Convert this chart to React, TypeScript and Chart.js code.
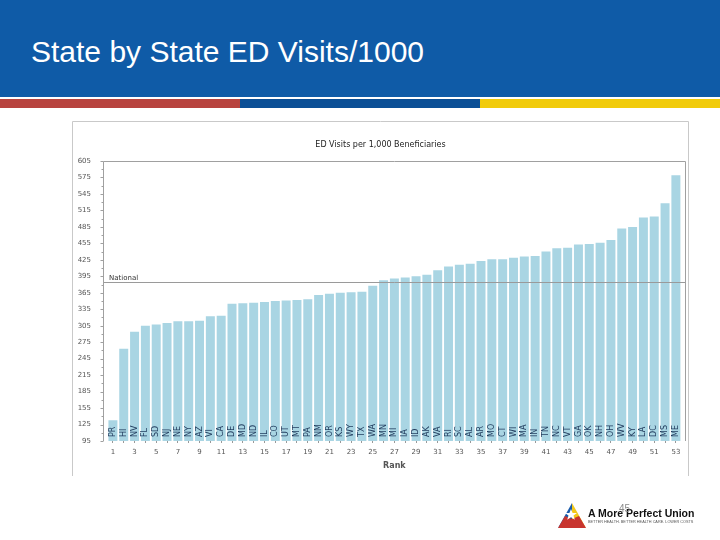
import React, { useEffect, useRef } from "react";
import { Chart, registerables } from "chart.js";

Chart.register(...registerables);

const slideTitle = "State by State ED Visits/1000";
const chartTitle = "ED Visits per 1,000 Beneficiaries";
const axisTitle = "Rank";
const nationalLabel = "National";
const nationalValue = 385;

const states = [
  "PR", "HI", "NV", "FL", "SD", "NJ", "NE", "NY", "AZ", "VI",
  "CA", "DE", "MD", "ND", "IL", "CO", "UT", "MT", "PA", "NM",
  "OR", "KS", "WY", "TX", "WA", "MN", "MI", "IA", "ID", "AK",
  "VA", "RI", "SC", "AL", "AR", "MO", "CT", "WI", "MA", "IN",
  "TN", "NC", "VT", "GA", "OK", "NH", "OH", "WV", "KY", "LA",
  "DC", "MS", "ME",
];

const visits = [
  133, 263, 294, 305, 307, 310, 313, 313, 314, 322,
  323, 345, 346, 347, 348, 350, 351, 352, 353, 361,
  363, 365, 366, 367, 378, 388, 391, 393, 395, 398,
  406, 413, 416, 418, 423, 426, 426, 429, 431, 432,
  440, 446, 447, 453, 454, 456, 461, 482, 485, 502,
  504, 528, 579,
];

const rankTicks = [
  "1", "3", "5", "7", "9", "11", "13", "15", "17", "19", "21", "23", "25", "27",
  "29", "31", "33", "35", "37", "39", "41", "43", "45", "47", "49", "51", "53",
];

const yMin = 95;
const yMax = 605;
const yStep = 30;

export default function App() {
  const ref = useRef<HTMLCanvasElement>(null);

  useEffect(() => {
    const canvas = ref.current;
    if (!canvas) return;
    const W = 617;
    const H = 355;
    const frameLeft = 31.5;
    const frameRight = 613.5;

    const deco = {
      id: "deco",
      beforeDraw(chart: any) {
        const c = chart.ctx;
        c.save();
        c.strokeStyle = "#c9c9c9";
        c.lineWidth = 1;
        c.beginPath();
        c.moveTo(0.5, H);
        c.lineTo(0.5, 0.5);
        c.lineTo(W - 0.5, 0.5);
        c.lineTo(W - 0.5, H);
        c.stroke();
        c.restore();
      },
      afterDatasetsDraw(chart: any) {
        const c = chart.ctx;
        const area = chart.chartArea;
        const meta = chart.getDatasetMeta(0);
        c.save();
        c.fillStyle = "#1f3a5c";
        c.font = "8px 'DejaVu Sans'";
        c.textAlign = "left";
        c.textBaseline = "middle";
        meta.data.forEach((bar: any, i: number) => {
          c.save();
          c.translate(bar.x, area.bottom - 4);
          c.rotate(-Math.PI / 2);
          c.fillText(states[i], 0, 0);
          c.restore();
        });
        const ny = Math.round(chart.scales.y.getPixelForValue(nationalValue)) + 0.5;
        c.strokeStyle = "#9a9a9a";
        c.lineWidth = 1;
        c.beginPath();
        c.moveTo(frameLeft, ny);
        c.lineTo(frameRight, ny);
        c.stroke();
        c.fillStyle = "#333";
        c.font = "7px 'DejaVu Sans'";
        c.textBaseline = "bottom";
        c.fillText(nationalLabel, 37, ny - 1);
        c.restore();
      },
      afterDraw(chart: any) {
        const c = chart.ctx;
        const area = chart.chartArea;
        const ys = chart.scales.y;
        c.save();
        c.strokeStyle = "#a0a0a0";
        c.lineWidth = 1;
        c.beginPath();
        c.moveTo(frameLeft, area.bottom);
        c.lineTo(frameLeft, area.top + 0.5);
        c.lineTo(frameRight, area.top + 0.5);
        c.lineTo(frameRight, area.bottom);
        c.stroke();
        c.beginPath();
        for (let v = yMin; v <= yMax; v += yStep / 2) {
          const y = Math.round(ys.getPixelForValue(v)) + 0.5;
          const len = (v - yMin) % yStep === 0 ? 3 : 2;
          c.moveTo(frameLeft - len, y);
          c.lineTo(frameLeft, y);
        }
        c.stroke();
        c.fillStyle = "#222";
        c.font = "8px 'DejaVu Sans'";
        c.textAlign = "center";
        c.textBaseline = "middle";
        c.fillText(chartTitle, W / 2, 24);
        c.restore();
      },
    };

    const chart = new Chart(canvas, {
      type: "bar",
      data: {
        labels: states,
        datasets: [
          {
            data: visits,
            backgroundColor: "#a9d5e3",
            borderWidth: 0,
            barPercentage: 0.83,
            categoryPercentage: 1,
          },
        ],
      },
      options: {
        responsive: false,
        animation: false,
        devicePixelRatio: 1,
        layout: { padding: { top: 40, right: 7.7, left: 0, bottom: 0 } },
        plugins: {
          legend: { display: false },
          tooltip: { enabled: false },
          title: { display: false },
        },
        scales: {
          x: {
            grid: {
              display: true,
              drawOnChartArea: false,
              drawTicks: true,
              tickLength: 2,
              offset: false,
              color: "#999",
            },
            border: { display: false },
            ticks: {
              autoSkip: false,
              maxRotation: 0,
              minRotation: 0,
              padding: 5,
              color: "#555",
              font: { family: "'DejaVu Sans'", size: 7 },
              callback: (_v: any, i: number) => (i % 2 === 0 ? rankTicks[i / 2] : ""),
            },
            title: {
              display: true,
              text: axisTitle,
              color: "#555",
              font: { family: "'DejaVu Sans'", size: 8, weight: "bold" },
              padding: { top: 0, bottom: 5 },
            },
            afterFit: (s: any) => {
              s.height = 35;
            },
          },
          y: {
            min: yMin,
            max: yMax,
            grid: { display: false },
            border: { display: false },
            ticks: {
              stepSize: yStep,
              padding: 8.5,
              color: "#555",
              font: { family: "'DejaVu Sans'", size: 7 },
            },
            afterFit: (s: any) => {
              s.width = 35.5;
            },
          },
        },
      },
      plugins: [deco],
    });
    return () => chart.destroy();
  }, []);

  return (
    <div
      style={{
        position: "absolute",
        left: 0,
        top: 0,
        width: 720,
        height: 540,
        background: "#fff",
        overflow: "hidden",
      }}
    >
      <div style={{ position: "absolute", left: 0, top: 0, width: 720, height: 97, background: "#0f5ba7" }} />
      <div
        style={{
          position: "absolute",
          left: 31,
          top: 36,
          color: "#fff",
          fontFamily: "'Liberation Sans', Arial, sans-serif",
          fontSize: 30,
          lineHeight: "32px",
          whiteSpace: "nowrap",
        }}
      >
        {slideTitle}
      </div>
      <div style={{ position: "absolute", left: 0, top: 99, width: 240, height: 9, background: "#b8443f" }} />
      <div style={{ position: "absolute", left: 240, top: 99, width: 240, height: 9, background: "#0b4f96" }} />
      <div style={{ position: "absolute", left: 480, top: 99, width: 240, height: 9, background: "#f1cb0b" }} />
      <canvas
        ref={ref}
        width={617}
        height={355}
        style={{ position: "absolute", left: 72, top: 121, width: 617, height: 355 }}
      />
      <svg
        width={720}
        height={540}
        style={{ position: "absolute", left: 0, top: 0, pointerEvents: "none" }}
      >
        <polygon points="572,503 558,528 572,519" fill="#1a5bab" />
        <polygon points="572,503 586,528 572,519" fill="#f2c81a" />
        <polygon points="558,528 586,528 579,516 572,519 565,516" fill="#c8352f" />
        <polygon
          points="571,509 572.6,513 577,513 573.5,515.6 574.8,519.8 571,517.2 567.2,519.8 568.5,515.6 565,513 569.4,513"
          fill="#fff"
        />
        <text x={588} y={517} fontFamily="'Liberation Sans', Arial, sans-serif" fontSize={10.5} fontWeight="bold" fill="#111">
          A More Perfect Union
        </text>
        <text x={588} y={523} fontFamily="'Liberation Sans', Arial, sans-serif" fontSize={3.8} fill="#555">
          BETTER HEALTH. BETTER HEALTH CARE. LOWER COSTS
        </text>
        <text x={619} y={512} fontFamily="'Liberation Sans', Arial, sans-serif" fontSize={10} fill="#888">
          45
        </text>
      </svg>
    </div>
  );
}
